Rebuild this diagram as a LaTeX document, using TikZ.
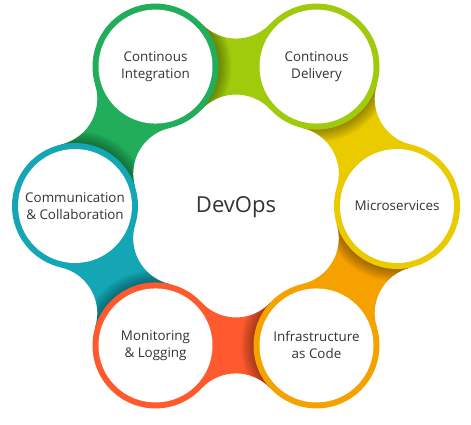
\documentclass[tikz,border=0pt]{standalone}
\usepackage{fontspec}
\setmainfont{Open Sans}
\definecolor{cci}{HTML}{22AD5A}
\definecolor{ccd}{HTML}{A0CA0C}
\definecolor{cmicro}{HTML}{E9CB00}
\definecolor{cinfra}{HTML}{F5A100}
\definecolor{cmon}{HTML}{FF5A2E}
\definecolor{ccomm}{HTML}{14A6B4}
\definecolor{txt}{HTML}{333333}
\begin{document}
\begin{tikzpicture}[
  ring/.style={circle, minimum size=126pt, inner sep=0pt},
  core/.style={circle, minimum size=114pt, inner sep=0pt, fill=white, text=txt, align=center, font=\fontsize{13.4}{17}\selectfont},
]
\fill[white] (0pt,0pt) rectangle (471pt,424pt);
\useasboundingbox (0pt,0pt) rectangle (471pt,424pt);
\begin{scope}[shift={(236pt,218pt)}]
  % connectors (necks) between neighbouring circles
  \foreach \th/\col in {0/cmicro, 60/ccd, 120/cci, 180/ccomm, 240/cmon, 300/cinfra}{
    \begin{scope}[shift={(\th+30:139.43pt)}, rotate=\th-60]
      \fill[\col] (-34.42pt,42.97pt) arc[start angle=-137, end angle=-43, radius=47.07pt]
        -- (34.42pt,-42.97pt) arc[start angle=43, end angle=137, radius=47.07pt] -- cycle;
      \begin{scope}
        \clip (-34.42pt,42.97pt) arc[start angle=-137, end angle=-43, radius=47.07pt]
          -- (34.42pt,-42.97pt) arc[start angle=43, end angle=137, radius=47.07pt] -- cycle;
        \foreach \k in {1,...,9}
          \fill[black, opacity=0.04] (-80.5pt,0pt) circle[radius={(63+1.4*\k)*1pt}];
      \end{scope}
    \end{scope}
  }
  % coloured rings
  \node[ring, fill=cmicro] (micro) at (0:161pt) {};
  \node[ring, fill=ccd]    (cd)    at (60:161pt) {};
  \node[ring, fill=cci]    (ci)    at (120:161pt) {};
  \node[ring, fill=ccomm]  (comm)  at (180:161pt) {};
  \node[ring, fill=cmon]   (mon)   at (240:161pt) {};
  \node[ring, fill=cinfra] (infra) at (300:161pt) {};
  % white discs with labels
  \node[core] (microt) at (micro) {Microservices};
  \node[core] (cdt)    at (cd)    {Continous\\Delivery};
  \node[core] (cit)    at (ci)    {Continous\\Integration};
  \node[core] (commt)  at (comm)  {Communication\\\& Collaboration};
  \node[core] (mont)   at (mon)   {Monitoring\\\& Logging};
  \node[core] (infrat) at (infra) {Infrastructure\\as Code};
  % centre
  \node[text=txt, font=\fontsize{22}{26}\selectfont] (devops) at (0pt,-1pt) {DevOps};
\end{scope}
\end{tikzpicture}
\end{document}
